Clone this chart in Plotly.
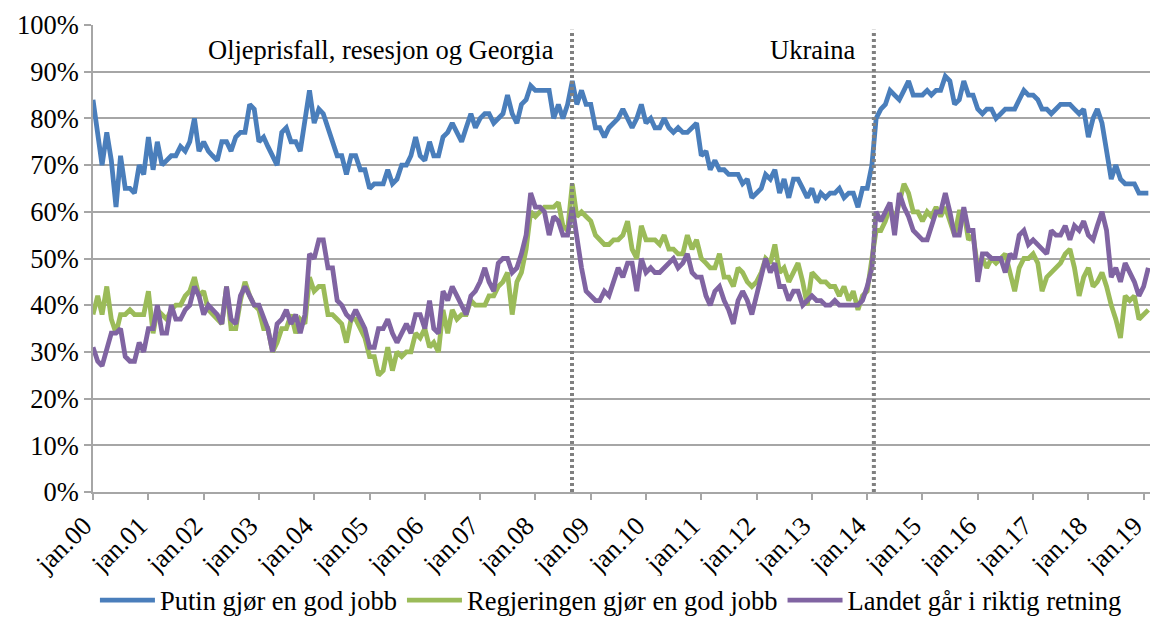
import plotly.graph_objects as go
import pandas as pd

# Monthly observations, January 2000 - February 2019
months = pd.date_range("2000-01-01", periods=230, freq="MS")

putin = [
    84, 76, 70, 77, 71, 61, 72, 65, 65, 64, 70, 68,
    76, 69, 75, 70, 71, 72, 72, 74, 73, 75, 80, 73,
    75, 73, 72, 71, 75, 75, 73, 76, 77, 77, 83, 82,
    75, 76, 74, 72, 70, 77, 78, 75, 75, 73, 79, 86,
    79, 82, 81, 78, 75, 72, 72, 68, 72, 72, 69, 69,
    65, 66, 66, 66, 69, 66, 67, 70, 70, 72, 76, 72,
    71, 75, 72, 72, 76, 77, 79, 77, 75, 78, 81, 78,
    80, 81, 81, 79, 80, 81, 85, 81, 79, 83, 84, 87,
    86, 86, 86, 86, 80, 83, 80, 83, 88, 83, 86, 83,
    83, 78, 78, 76, 78, 79, 80, 82, 80, 78, 80, 83,
    79, 80, 78, 78, 80, 78, 77, 78, 77, 77, 78, 79,
    72, 73, 69, 71, 69, 69, 68, 68, 68, 66, 67, 63,
    64, 65, 68, 67, 69, 64, 67, 63, 67, 67, 65, 63,
    65, 62, 64, 63, 64, 64, 65, 63, 64, 64, 61, 65,
    65, 70, 80, 82, 83, 86, 85, 84, 86, 88, 85, 85,
    85, 86, 85, 86, 86, 89, 88, 83, 84, 88, 85, 85,
    82, 81, 82, 82, 80, 81, 82, 82, 82, 84, 86, 85,
    85, 84, 82, 82, 81, 82, 83, 83, 83, 82, 81, 82,
    76, 80, 82, 79, 73, 67, 70, 67, 66, 66, 66, 64,
    64, 64,
]

regjeringen = [
    38, 42, 38, 44, 37, 34, 38, 38, 39, 38, 38, 38,
    43, 34, 39, 38, 37, 39, 40, 40, 42, 43, 46, 42,
    43, 39, 38, 37, 36, 44, 35, 35, 41, 45, 42, 40,
    39, 35, 35, 30, 32, 35, 35, 38, 34, 37, 36, 46,
    43, 44, 44, 38, 38, 37, 36, 32, 37, 37, 35, 33,
    29, 29, 25, 26, 31, 26, 30, 29, 30, 30, 34, 33,
    35, 31, 32, 30, 39, 34, 39, 37, 38, 38, 41, 40,
    40, 40, 42, 42, 44, 45, 47, 38, 45, 47, 52, 60,
    59, 60, 61, 61, 61, 62, 57, 56, 66, 59, 60, 59,
    58, 55, 54, 53, 53, 54, 54, 55, 58, 52, 50, 57,
    54, 54, 54, 53, 55, 52, 52, 51, 51, 55, 52, 54,
    50, 49, 48, 48, 51, 46, 46, 44, 48, 47, 45, 44,
    45, 47, 50, 49, 53, 47, 48, 45, 47, 49, 45, 40,
    47, 46, 45, 45, 44, 44, 42, 44, 41, 43, 39, 42,
    43, 50, 56, 56, 58, 61, 58, 62, 66, 64, 60, 60,
    58, 60, 59, 61, 59, 61, 58, 55, 60, 60, 54, 55,
    48, 50, 48, 50, 49, 50, 51, 47, 43, 48, 50, 50,
    51, 49, 43, 46, 47, 48, 49, 51, 52, 48, 42, 46,
    48, 44, 45, 47, 44, 40, 37, 33, 42, 41, 42, 37,
    38, 39,
]

landet = [
    31, 28, 27, 31, 34, 34, 35, 29, 28, 28, 32, 30,
    35, 35, 40, 34, 34, 40, 37, 37, 39, 40, 44, 42,
    38, 40, 39, 38, 36, 44, 37, 36, 42, 44, 42, 40,
    40, 37, 35, 30, 36, 37, 39, 36, 38, 34, 38, 51,
    50, 54, 54, 48, 48, 41, 40, 38, 37, 39, 37, 35,
    31, 31, 35, 35, 37, 34, 32, 34, 36, 34, 38, 38,
    35, 41, 35, 34, 43, 41, 44, 42, 40, 38, 42, 43,
    45, 48, 45, 43, 49, 50, 50, 47, 48, 51, 55, 64,
    61, 61, 60, 55, 59, 58, 55, 55, 61, 54, 48, 43,
    42, 41, 41, 43, 42, 45, 48, 46, 49, 49, 43, 50,
    47, 48, 47, 47, 48, 49, 50, 48, 49, 51, 47, 46,
    46, 42, 40, 43, 44, 41, 39, 36, 41, 43, 41, 38,
    42, 46, 50, 47, 49, 44, 44, 41, 43, 43, 40, 41,
    42, 41, 41, 40, 40, 41, 40, 40, 40, 40, 40, 41,
    44, 48, 60, 58, 60, 62, 55, 64, 61, 59, 56, 55,
    54, 54, 57, 60, 60, 64, 60, 55, 55, 61, 56, 56,
    45, 51, 51, 50, 50, 50, 47, 51, 50, 55, 56, 53,
    54, 53, 52, 51, 56, 55, 55, 57, 54, 57, 56, 58,
    55, 54, 57, 60, 56, 46, 48, 45, 49, 47, 45, 42,
    44, 48,
]

series_names = ["Putin gjør en god jobb", "Regjeringen gjør en god jobb",
                "Landet går i riktig retning"]
series_colors = ["#4A7EBB", "#9BBB59", "#8064A2"]

tick_dates = pd.date_range("2000-01-01", "2019-01-01", freq="YS")
tick_labels = ["jan.%02d" % (d.year % 100) for d in tick_dates]

event_dates = ["2008-08-30", "2014-02-14"]
event_labels = ["Oljeprisfall, resesjon og Georgia", "Ukraina"]
event_label_x = ["2005-03-20", "2013-01-10"]

FONT = "Liberation Serif"
GRID = "#A6A6A6"
FS = 26.5

fig = go.Figure()
for name, vals, col in zip(series_names, [putin, regjeringen, landet], series_colors):
    fig.add_trace(go.Scatter(
        x=months, y=[v / 100 for v in vals], mode="lines", name=name,
        line=dict(color=col, width=4.8),
    ))

for d in event_dates:
    fig.add_shape(type="line", xref="x", yref="paper", x0=d, x1=d, y0=0, y1=0.99,
                  line=dict(color="#808080", width=4, dash="3px,3px"), layer="above")

for txt, xd in zip(event_labels, event_label_x):
    fig.add_annotation(x=xd, y=0.946, xref="x", yref="y", text=txt, showarrow=False,
                       font=dict(family=FONT, size=FS, color="black"))

fig.update_layout(
    width=1150, height=618,
    margin=dict(l=93, r=0, t=25, b=126, autoexpand=False),
    paper_bgcolor="white", plot_bgcolor="white",
    font=dict(family=FONT, size=FS, color="black"),
    showlegend=True,
    legend=dict(orientation="h", x=0.49, xanchor="center", y=-0.232, yanchor="middle",
                font=dict(family=FONT, size=FS, color="black"),
                itemwidth=55, tracegroupgap=0),
)
fig.update_xaxes(
    type="date", range=["2000-01-01", "2019-02-12"], automargin=False,
    tickmode="array", tickvals=tick_dates, ticktext=tick_labels, tickangle=-45,
    ticklabeloverflow="allow", ticklabelshift=-9,
    showgrid=False, showline=True, linecolor=GRID, linewidth=1.5,
    ticks="outside", ticklen=6, tickcolor=GRID, tickwidth=1.5,
    tickfont=dict(family=FONT, size=FS, color="black"),
)
fig.update_yaxes(
    range=[0, 1.0], dtick=0.1, tickformat=".0%", automargin=False,
    showgrid=True, gridcolor=GRID, gridwidth=1.5, zeroline=False,
    showline=True, linecolor=GRID, linewidth=1.5,
    ticks="outside", ticklen=7, tickcolor=GRID, tickwidth=1.5,
    tickfont=dict(family=FONT, size=FS, color="black"),
)

# remove the browser's default 8px body margin so the figure fills the window exactly
fig.write_html("out.html",
               config={"displayModeBar": False},
               post_script="document.body.style.margin='0';"
                           "document.body.style.overflow='hidden';")
